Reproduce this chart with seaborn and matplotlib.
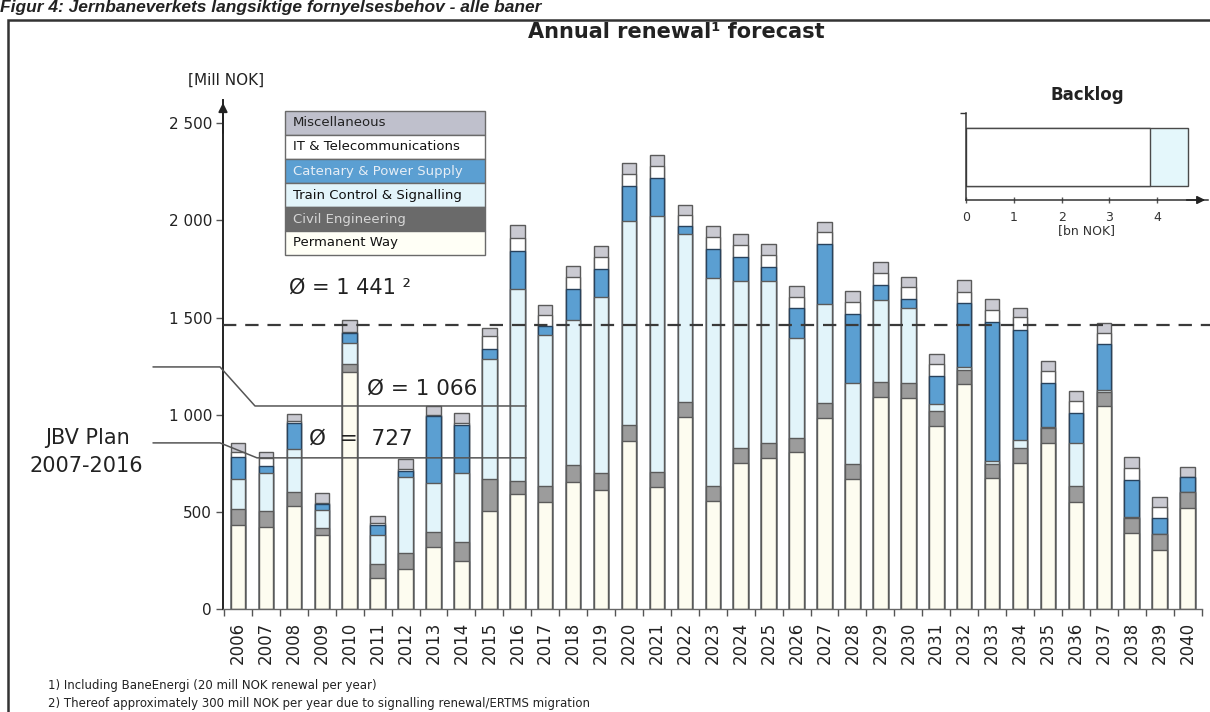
import numpy as np
import pandas as pd
import matplotlib
matplotlib.use("Agg")
import matplotlib.pyplot as plt
from matplotlib.patches import Rectangle
import seaborn as sns

# ---------------- data ----------------
years = [str(y) for y in range(2006, 2041)]
permanent_way = [432, 422, 530, 380, 1222, 158, 204, 318, 247, 505, 590, 549, 656, 613, 865, 630, 987, 556,
                 753, 779, 807, 982, 668, 1093, 1088, 942, 1159, 673, 753, 853, 553, 1045, 390, 304, 519]
civil_engineering = [81, 83, 74, 39, 40, 74, 83, 77, 96, 164, 71, 84, 86, 86, 82, 77, 80, 77,
                     74, 77, 75, 80, 79, 77, 77, 79, 72, 74, 75, 77, 80, 74, 77, 82, 82]
train_control = [155, 194, 218, 91, 109, 148, 391, 252, 359, 617, 987, 778, 746, 909, 1051, 1317, 864, 1070,
                 862, 833, 512, 509, 415, 421, 383, 33, 17, 15, 42, 5, 220, 9, 5, 0, 0]
catenary = [116, 39, 137, 31, 49, 53, 34, 347, 245, 51, 195, 48, 158, 143, 177, 194, 38, 149,
            122, 71, 154, 307, 357, 77, 48, 146, 326, 717, 567, 230, 158, 235, 192, 81, 77]
it_telecom = [26, 41, 11, 6, 8, 8, 10, 5, 9, 69, 66, 55, 65, 63, 63, 63, 60, 62,
              63, 63, 60, 62, 62, 61, 61, 60, 60, 61, 65, 61, 62, 60, 64, 57, 0]
miscellaneous = [46, 28, 32, 52, 60, 39, 52, 48, 52, 39, 68, 51, 52, 55, 57, 57, 51, 55,
                 55, 55, 55, 54, 58, 56, 51, 53, 60, 55, 46, 53, 51, 51, 53, 54, 55]

categories = ["Permanent Way", "Civil Engineering", "Train Control & Signalling",
              "Catenary & Power Supply", "IT & Telecommunications", "Miscellaneous"]
avg_total = 1460          # dashed average line (labelled 1 441)
avg_plan_a = 1045         # line labelled 1 066
avg_plan_b = 778          # line labelled 727
backlog_labels = ["Permanent Way", "Train Control & Signalling"]
backlog_values = [3.85, 0.80]
y_ticks = [0, 500, 1000, 1500, 2000, 2500]
y_tick_labels = ["0", "500", "1 000", "1 500", "2 000", "2 500"]

# ---------------- style ----------------
sns.set_style("white")
plt.rcParams["font.family"] = ["DejaVu Sans"]
TXT = "#222222"

W, H = 1210, 712
fig = plt.figure(figsize=(W / 100, H / 100), dpi=100)

def fx(px):
    return px / W

def fy(py):
    return 1 - py / H

# main axes geometry (pixels)
ax_l, ax_r, ax_t, ax_b = 223, 1202, 100, 609
ax = fig.add_axes([fx(ax_l), fy(ax_b), fx(ax_r - ax_l), (ax_b - ax_t) / H])

df = pd.DataFrame({
    "year": years,
    "Permanent Way": permanent_way,
    "Civil Engineering": civil_engineering,
    "Train Control & Signalling": train_control,
    "Catenary & Power Supply": catenary,
    "IT & Telecommunications": it_telecom,
    "Miscellaneous": miscellaneous,
})

bar_colors = {
    "Permanent Way": "#fdfcf0",
    "Civil Engineering": "#9c9c9c",
    "Train Control & Signalling": "#e2f4fa",
    "Catenary & Power Supply": "#5b9fd2",
    "IT & Telecommunications": "#ffffff",
    "Miscellaneous": "#cacad2",
}
edge_colors = {c: "#5a5a5a" for c in categories}
edge_colors["Catenary & Power Supply"] = "#28425c"

# cumulative stacking: draw tallest first, overlay lower cumulative sums
cum = df[categories].cumsum(axis=1)
for cat in reversed(categories):
    sns.barplot(x=df["year"], y=cum[cat], order=years, color=bar_colors[cat],
                saturation=1, width=0.52, edgecolor=edge_colors[cat], linewidth=1.0,
                ax=ax, zorder=2)

x_left = (ax_l - 238) / 27.93
x_right = (ax_r - 238) / 27.93
ax.set_xlim(x_left, x_right)
ax.set_ylim(0, 2620)

# axes styling
for s in ["top", "right"]:
    ax.spines[s].set_visible(False)
ax.spines["left"].set_color("#222222")
ax.spines["left"].set_linewidth(1.4)
ax.spines["bottom"].set_color("#666666")
ax.spines["bottom"].set_linewidth(1.0)
ax.annotate("", xy=(0, 1.0), xytext=(0, 0.93), xycoords="axes fraction",
            arrowprops=dict(arrowstyle="-|>", color="#222222", lw=1.4, mutation_scale=13))

ax.set_yticks(y_ticks)
ax.set_yticklabels(y_tick_labels)
ax.tick_params(axis="y", which="major", length=5, width=1, color="#555555",
               labelsize=11, labelcolor=TXT, pad=3, left=True)
ax.set_xticks(range(len(years)))
ax.set_xticklabels(years, rotation=90, fontsize=12, color=TXT)
ax.tick_params(axis="x", which="major", length=0, pad=9)
ax.set_xticks(np.arange(-0.5, len(years), 1.0), minor=True)
ax.tick_params(axis="x", which="minor", length=5, width=1, color="#555555", bottom=True)
ax.set_xlabel("")
ax.set_ylabel("")
ax.grid(False)

# average lines
ax.plot([x_left, (W - ax_l) / 27.93 + x_left], [avg_total, avg_total], ls=(0, (6, 4)),
        color="#3a3a3a", lw=1.6, zorder=4, clip_on=False)
xa = [(153 - 238) / 27.93, (220 - 238) / 27.93, (255 - 238) / 27.93, (526 - 238) / 27.93]
ax.plot(xa, [1246, 1246, avg_plan_a, avg_plan_a], color="#555555", lw=1.1, zorder=4, clip_on=False)
xb = [(153 - 238) / 27.93, (220 - 238) / 27.93, (257 - 238) / 27.93, (526 - 238) / 27.93]
ax.plot(xb, [855, 855, avg_plan_b, avg_plan_b], color="#555555", lw=1.1, zorder=4, clip_on=False)

# annotation texts
fig.text(fx(350), fy(288), "Ø = 1 441 ²", fontsize=15, color=TXT, ha="center", va="center")
fig.text(fx(422), fy(389), "Ø = 1 066", fontsize=15.5, color=TXT, ha="center", va="center")
fig.text(fx(361), fy(439), "Ø  =  727", fontsize=15.5, color=TXT, ha="center", va="center")
fig.text(fx(88), fy(438), "JBV Plan", fontsize=15, color=TXT, ha="center", va="center")
fig.text(fx(86), fy(466), "2007-2016", fontsize=15, color=TXT, ha="center", va="center")
fig.text(fx(226), fy(80), "[Mill NOK]", fontsize=11, color=TXT, ha="center", va="center")

# titles and notes
fig.text(fx(676), fy(32), "Annual renewal¹ forecast", fontsize=15, fontweight="bold",
         color=TXT, ha="center", va="center")
fig.text(0.0, fy(12), "Figur 4: Jernbaneverkets langsiktige fornyelsesbehov - alle baner",
         fontsize=12.5, fontweight="bold", fontstyle="italic", family=["Liberation Sans"],
         color=TXT, ha="left", va="baseline")
fig.text(fx(48), fy(686), "1) Including BaneEnergi (20 mill NOK renewal per year)",
         fontsize=8.5, color=TXT, ha="left", va="center")
fig.text(fx(48), fy(703), "2) Thereof approximately 300 mill NOK per year due to signalling renewal/ERTMS migration",
         fontsize=8.5, color=TXT, ha="left", va="center")

# outer frame
fig.patches.append(Rectangle((fx(8), fy(730)), fx(1240), (730 - 20) / H, transform=fig.transFigure,
                             fill=False, edgecolor="#333333", lw=1.8, zorder=0))

# ---------------- legend box ----------------
leg_rows = list(reversed(categories))
leg_fill = {
    "Miscellaneous": "#bfc0cc",
    "IT & Telecommunications": "#ffffff",
    "Catenary & Power Supply": "#5b9fd2",
    "Train Control & Signalling": "#e2f4fa",
    "Civil Engineering": "#6a6a6a",
    "Permanent Way": "#fffff6",
}
leg_text = {
    "Miscellaneous": "#222222",
    "IT & Telecommunications": "#111111",
    "Catenary & Power Supply": "#e6eef6",
    "Train Control & Signalling": "#111111",
    "Civil Engineering": "#d6d6d6",
    "Permanent Way": "#111111",
}
lx0, lx1, ly0, ly1 = 285, 485, 111, 255
rh = (ly1 - ly0) / len(leg_rows)
for i, name in enumerate(leg_rows):
    top = ly0 + i * rh
    fig.patches.append(Rectangle((fx(lx0), fy(top + rh)), fx(lx1 - lx0), rh / H,
                                 transform=fig.transFigure, facecolor=leg_fill[name],
                                 edgecolor="#6a6a6a", lw=1.0, zorder=5))
    fig.text(fx(lx0 + 8), fy(top + rh / 2), name, fontsize=9.5, color=leg_text[name],
             ha="left", va="center", zorder=6)

# ---------------- backlog inset ----------------
bx_l, bx_r, by_t, by_b = 966, 1208, 113, 200
bax = fig.add_axes([fx(bx_l), fy(by_b), fx(bx_r - bx_l), (by_b - by_t) / H])
bk = pd.DataFrame({"label": ["Backlog"], "first": [backlog_values[0]],
                   "total": [backlog_values[0] + backlog_values[1]]})
sns.barplot(x=bk["total"], y=bk["label"], orient="h", color="#e4f7fb", saturation=1,
            width=0.667, edgecolor="#4a4a4a", linewidth=1.0, ax=bax)
sns.barplot(x=bk["first"], y=bk["label"], orient="h", color="#ffffff", saturation=1,
            width=0.667, edgecolor="#4a4a4a", linewidth=1.0, ax=bax)
bax.set_xlim(0, (bx_r - bx_l) / 47.8)
bax.set_ylim(-0.494, 0.506)
bax.set_facecolor("none")
for s in ["top", "right"]:
    bax.spines[s].set_visible(False)
for s in ["left", "bottom"]:
    bax.spines[s].set_color("#333333")
    bax.spines[s].set_linewidth(1.1)
bax.annotate("", xy=(1.0, 0), xytext=(0.9, 0), xycoords="axes fraction",
             arrowprops=dict(arrowstyle="-|>", color="#222222", lw=1.1, mutation_scale=12))
bax.set_yticks([0.506])
bax.set_yticklabels([""])
bax.tick_params(axis="y", length=4, width=1, color="#333333", left=True)
bax.set_xticks([0, 1, 2, 3, 4])
bax.set_xticklabels(["0", "1", "2", "3", "4"])
bax.tick_params(axis="x", length=4, width=1, color="#555555", direction="inout",
                labelsize=9, labelcolor="#333333", pad=6, bottom=True)
bax.set_xlabel("[bn NOK]", fontsize=9, color="#333333", labelpad=0)
bax.set_ylabel("")
fig.text(fx(1087), fy(95), "Backlog", fontsize=12, fontweight="bold", color=TXT,
         ha="center", va="center")

fig.savefig("out.png", dpi=100)
